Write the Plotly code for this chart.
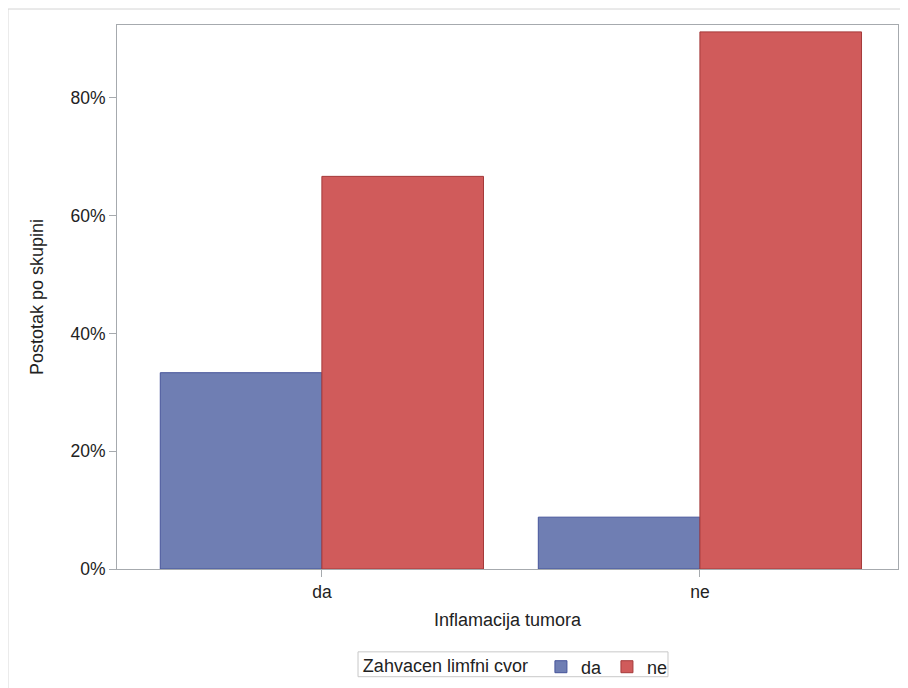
import plotly.graph_objects as go

categories = ["da", "ne"]
groups = ["da", "ne"]
values_da = [33.33, 8.8]
values_ne = [66.67, 91.2]
y_ticks = [0, 20, 40, 60, 80]
y_tick_labels = ["0%", "20%", "40%", "60%", "80%"]

fill_colors = {"da": "#6f7eb3", "ne": "#d05b5b"}
line_colors = {"da": "#45549a", "ne": "#a53a3a"}

fig = go.Figure()
for g, vals in zip(groups, [values_da, values_ne]):
    fig.add_trace(go.Bar(
        x=categories, y=vals, name=g,
        marker=dict(color=fill_colors[g], line=dict(color=line_colors[g], width=1)),
    ))

font = dict(family="Liberation Sans, Arial, sans-serif", size=18, color="#222")
tick_font = dict(family="Liberation Sans, Arial, sans-serif", size=17.5, color="#222")
axis_line = "#a6aaae"

fig.update_layout(
    width=908, height=688,
    margin=dict(l=109, r=18, t=17, b=126),
    paper_bgcolor="white", plot_bgcolor="white",
    barmode="group", bargap=0.145, bargroupgap=0,
    font=font,
    showlegend=True,
    legend=dict(
        orientation="h", x=0.512, xanchor="center", y=-0.178, yanchor="middle",
        title=dict(text="Zahvacen limfni cvor ", side="left", font=font),
        bgcolor="rgba(0,0,0,0)", borderwidth=0, font=font,
        itemwidth=30, tracegroupgap=0,
    ),
    xaxis=dict(
        range=[-0.542, 1.524], showline=True, mirror=True, linecolor=axis_line, linewidth=1,
        ticks="outside", ticklen=7, tickcolor=axis_line, showgrid=False,
        title=dict(text="Inflamacija tumora", font=font, standoff=12),
        tickfont=tick_font,
    ),
    yaxis=dict(
        range=[0, 92.37], showline=True, mirror=True, linecolor=axis_line, linewidth=1,
        ticks="outside", ticklen=7, tickcolor=axis_line, showgrid=False, zeroline=False,
        tickvals=y_ticks, ticktext=y_tick_labels, tickfont=tick_font,
        title=dict(text="Postotak po skupini", font=font, standoff=22),
    ),
    shapes=[
        dict(
            type="rect", xref="paper", yref="paper",
            x0=-0.1396, x1=1.03, y0=-0.25, y1=1.0294,
            line=dict(color="#d4d4d4", width=1), fillcolor="rgba(0,0,0,0)", layer="below",
        ),
        dict(
            type="rect", xref="paper", yref="paper",
            x0=0.3086, x1=0.7055, y0=-0.198, y1=-0.1523,
            line=dict(color="#c8c8c8", width=1), fillcolor="rgba(0,0,0,0)", layer="below",
        ),
    ],
)

fig.write_html("out.html")
